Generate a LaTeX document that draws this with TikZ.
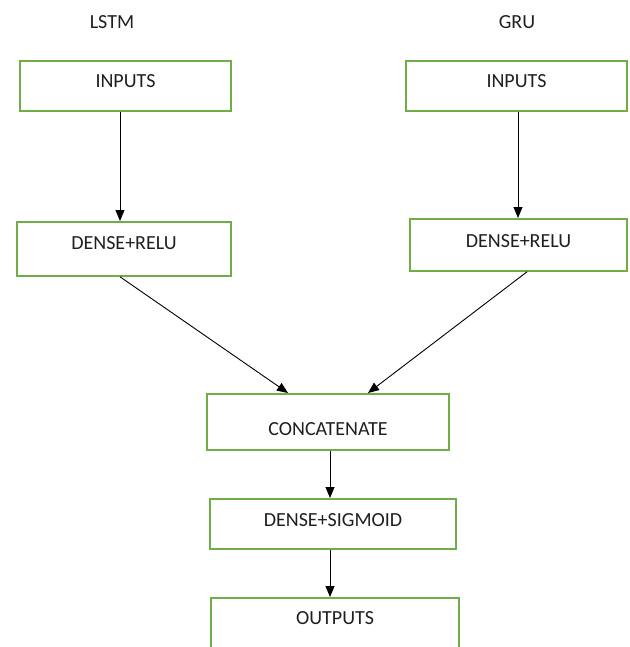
\documentclass[tikz,border=0pt]{standalone}
\usepackage{fontspec}
\setmainfont{Carlito}
\usepackage{xcolor}
\usepackage{tikz}
\usetikzlibrary{arrows.meta}

\definecolor{boxgreen}{RGB}{112,173,71}

\begin{document}
\begin{tikzpicture}[x=1pt,y=-1pt,>=Latex,
  every node/.style={font=\fontsize{20}{24}\selectfont,text=black!88},
  layer/.style 2 args={draw=boxgreen,line width=1.8pt,inner ysep=0pt,
    text height=#1,text depth=#2,anchor=north},
  flow/.style={line width=0.9pt,black,-{Triangle[length=11pt,width=9pt]}}]
\useasboundingbox (0,0) rectangle (629,647);
\clip (0,0) rectangle (629,647);
% headings
\node (lstm) at (112,22) {LSTM};
\node (gru) at (517,22) {GRU};
% left branch
\node[layer={27pt}{23pt},minimum width=211pt] (inL) at (125.5,60) {INPUTS};
\node[layer={28pt}{26pt},minimum width=214pt] (denL) at (124,221) {DENSE+RELU};
% right branch
\node[layer={27pt}{23pt},minimum width=221pt] (inR) at (516.5,60) {INPUTS};
\node[layer={29pt}{23pt},minimum width=217pt] (denR) at (518.5,218) {DENSE+RELU};
% merged part
\node[layer={42pt}{14pt},minimum width=242pt] (concat) at (328,393) {CONCATENATE};
\node[layer={28pt}{22pt},minimum width=246pt] (sigm) at (333,498) {DENSE+SIGMOID};
\node[layer={27pt}{60pt},minimum width=248pt] (outp) at (335,597) {OUTPUTS};
% connectors
\draw[flow] ([xshift=-5.5pt]inL.south) -- ([xshift=-4pt]denL.north);
\draw[flow] ([xshift=1.5pt]inR.south) -- ([xshift=-0.5pt]denR.north);
\draw[flow] ([xshift=-4pt]denL.south) -- ([xshift=-40pt]concat.north);
\draw[flow] ([xshift=8.5pt]denR.south) -- ([xshift=40pt]concat.north);
\draw[flow] ([xshift=2pt]concat.south) -- ([xshift=-3pt]sigm.north);
\draw[flow] ([xshift=-3pt]sigm.south) -- ([xshift=-5pt]outp.north);
\end{tikzpicture}
\end{document}
